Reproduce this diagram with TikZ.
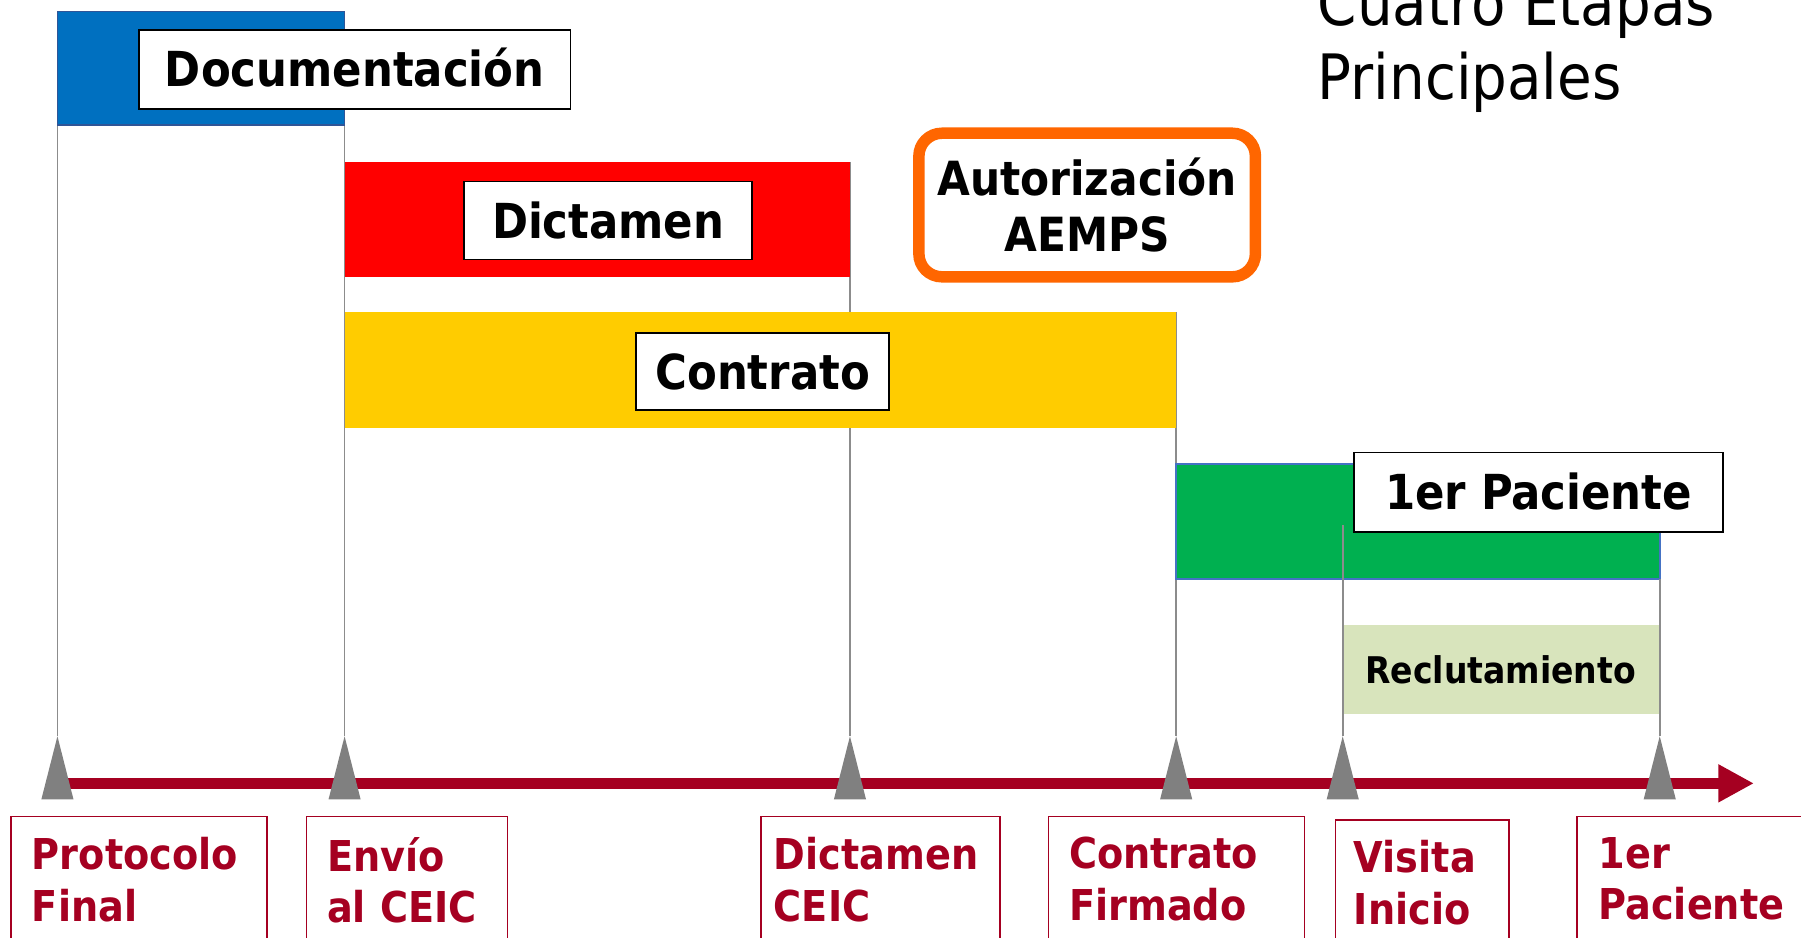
\documentclass[tikz,border=0pt]{standalone}
\usepackage{fontspec}
\setmainfont{DejaVu Sans Condensed}
\usepackage{xcolor}
\usepackage{tikz}
\usetikzlibrary{positioning,arrows.meta,backgrounds}
\definecolor{docblue}{HTML}{0070C0}
\definecolor{docedge}{HTML}{2F5597}
\definecolor{dicred}{HTML}{FF0000}
\definecolor{conyellow}{HTML}{FFCC00}
\definecolor{patgreen}{HTML}{00B050}
\definecolor{patedge}{HTML}{4472C4}
\definecolor{recgreen}{HTML}{D8E4BC}
\definecolor{aemorange}{HTML}{FF6600}
\definecolor{axisred}{HTML}{A50021}
\definecolor{guidegray}{HTML}{8C8C8C}
\definecolor{tickgray}{HTML}{808080}
\tikzset{
  bar/.style={rectangle, anchor=north west, inner sep=0pt, outer sep=0pt},
  tag/.style={rectangle, draw=black, line width=1.5pt, fill=white, inner sep=0pt,
    font=\fontsize{42}{50}\selectfont\bfseries, text height=30.6pt, text depth=0pt},
  milestone/.style={rectangle, anchor=north west, draw=axisred, line width=1.5pt, text=axisred,
    align=left, font=\fontsize{37}{45}\selectfont\bfseries, inner xsep=18pt, inner ysep=18pt},
  guide/.style={draw=guidegray, line width=1.5pt},
  tick/.style={fill=tickgray},
  axis/.style={draw=axisred, line width=10pt, -{Triangle[length=31pt, width=31pt]}},
}
\begin{document}
\begin{tikzpicture}[x=1pt, y=-1pt,
  recruit/.style={bar, fill=recgreen, font=\fontsize{32}{38}\selectfont\bfseries,
    text height=23.3pt, text depth=0pt},
  authority/.style={rectangle, rounded corners=20pt, draw=aemorange, line width=10pt, fill=white,
    align=center, font=\fontsize{41}{49}\selectfont\bfseries},
  heading/.style={anchor=base west, inner sep=0pt, font=\fontsize{54.5}{65}\selectfont}]
\useasboundingbox (0,0) rectangle (1568,816);
% points on the time axis
\foreach \n/\x in {1/50,2/300,3/740,4/1024,5/1169,6/1445}
  \coordinate (t\n) at (\x,641);
\coordinate (g5) at (1169,457);
\coordinate (axstart) at (58,682);
\coordinate (axend) at (1527,682);
% stage bars
\node[bar, fill=docblue, draw=docedge, line width=1.5pt, minimum width=250pt, minimum height=99pt] (docbar) at (50,10) {};
\node[bar, fill=dicred, minimum width=440pt, minimum height=100pt] (dicbar) at (300,141) {};
\node[bar, fill=conyellow, minimum width=724pt, minimum height=101pt] (conbar) at (300,272) {};
\node[bar, fill=patgreen, draw=patedge, line width=1.5pt, minimum width=421pt, minimum height=100pt] (patbar) at (1024,404) {};
\node[recruit, minimum width=275pt, minimum height=78pt] (recbar) at (1169,544) {Reclutamiento};
\begin{scope}[on background layer]
\draw[guide] (docbar.north west) -- (t1);
\draw[guide] (docbar.north east) -- (t2);
\draw[guide] (dicbar.north east) -- (t3);
\draw[guide] (conbar.north east) -- (t4);
\end{scope}
\draw[guide] (g5) -- (t5);
\draw[guide] (patbar.south east) -- (t6);
% time axis
\draw[axis] (axstart) -- (axend);
\foreach \n in {1,...,6}
  \fill[tick] (t\n) -- ++(-14,55) -- ++(28,0) -- cycle;
% stage names
\node[tag, minimum width=376pt, minimum height=69pt] (doctag) at (308.8,60.4) {Documentación};
\node[tag, minimum width=251pt, minimum height=68pt] (dictag) at (529.5,192) {Dictamen};
\node[tag, minimum width=220pt, minimum height=67pt] (contag) at (664,323.5) {Contrato};
\node[tag, minimum width=321pt, minimum height=69pt] (pattag) at (1339.5,428.5) {1er Paciente};
\node[authority, minimum width=293pt, minimum height=125pt] (aemps) at (946.5,178.5) {Autorización\\AEMPS};
% milestones
\node[milestone, text width=187pt] (m1) at (9,710) {Protocolo\\Final};
\node[milestone, text width=139pt] (m2) at (266,710) {Envío\\al~CEIC};
\node[milestone, inner xsep=11pt, text width=186pt] (m3) at (662,710) {Dictamen\\CEIC};
\node[milestone, text width=187pt] (m4) at (912,710) {Contrato\\Firmado};
\node[milestone, inner xsep=16pt, text width=119pt] (m5) at (1162,713) {Visita\\Inicio};
\node[milestone, inner xsep=19pt, text width=185pt] (m6) at (1372,710) {1er\\Paciente};
% title
\node[heading] (title1) at (1147,21.8) {Cuatro Etapas};
\node[heading] (title2) at (1147,87) {Principales};
\end{tikzpicture}
\end{document}
